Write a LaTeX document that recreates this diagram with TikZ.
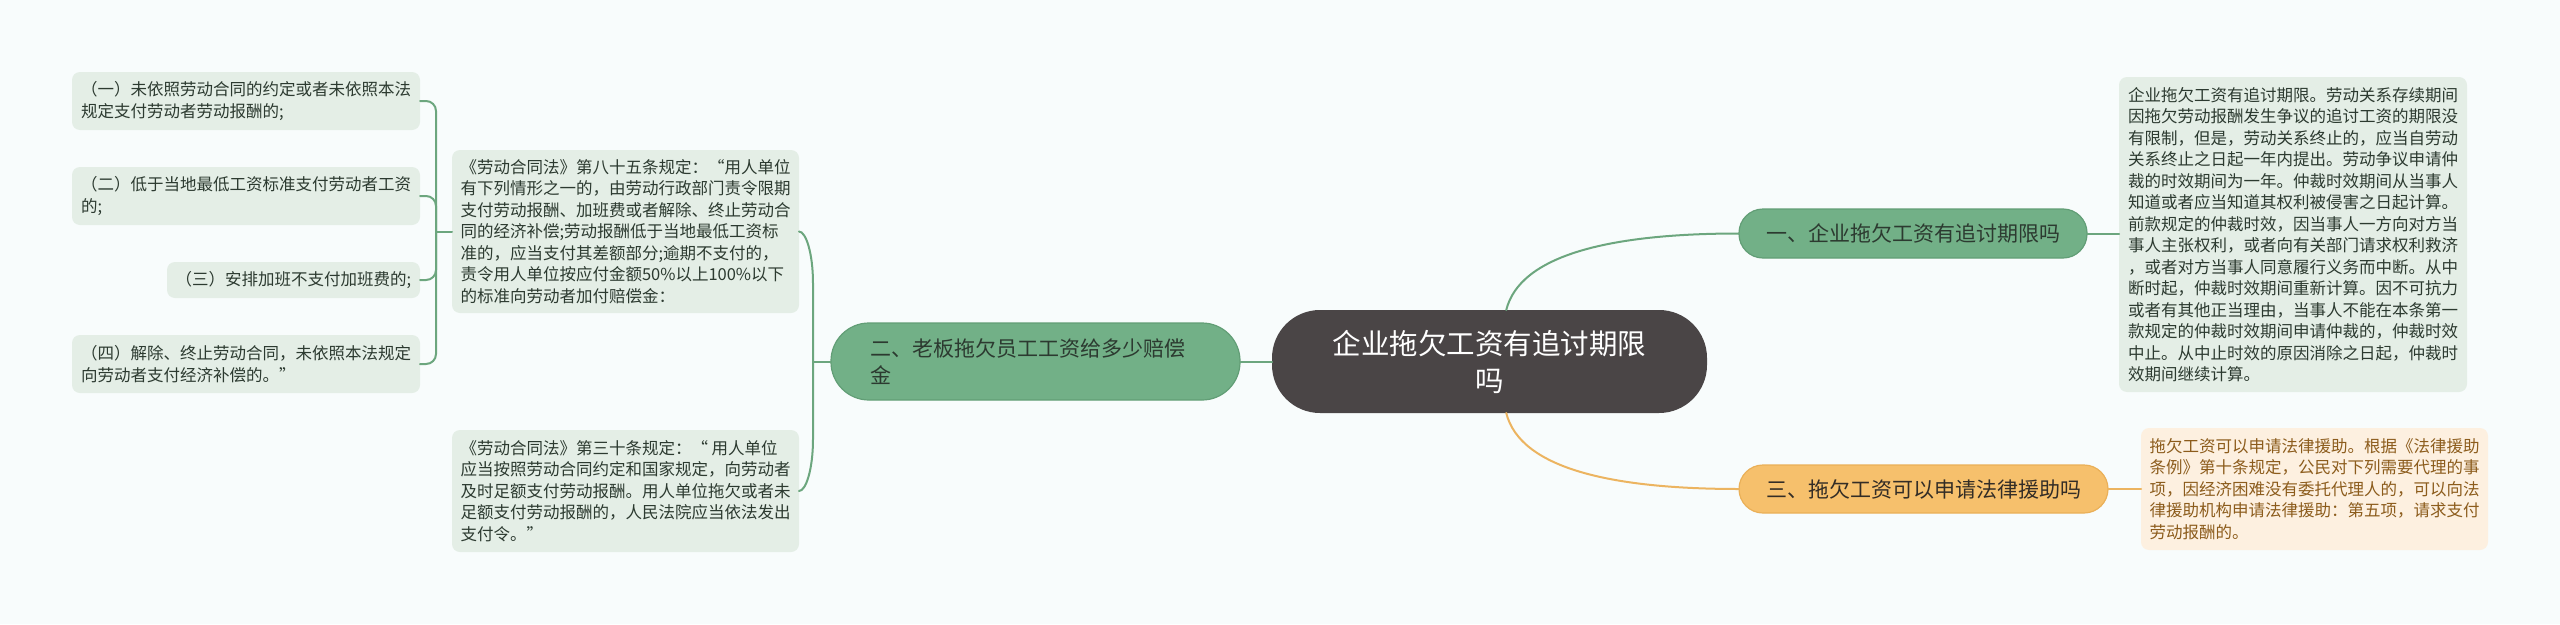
\documentclass[tikz,border=0pt]{standalone}
\usepackage{fontspec}
\usetikzlibrary{calc}
\setmainfont{Noto Sans CJK SC}
\definecolor{bgc}{RGB}{248,252,252}
\definecolor{cdark}{RGB}{74,69,70}
\definecolor{gfill}{RGB}{114,176,135}
\definecolor{gdraw}{RGB}{98,158,118}
\definecolor{gline}{RGB}{108,166,126}
\definecolor{gleaf}{RGB}{228,238,230}
\definecolor{gtext}{RGB}{44,58,48}
\definecolor{ofill}{RGB}{246,192,108}
\definecolor{odraw}{RGB}{234,176,88}
\definecolor{oline}{RGB}{236,180,96}
\definecolor{oleaf}{RGB}{253,240,224}
\definecolor{otext}{RGB}{140,92,28}
\definecolor{btext}{RGB}{51,45,38}
\begin{document}
\begin{tikzpicture}[x=1pt,y=-1pt,
  every node/.style={inner sep=0pt, outer sep=0pt},
  centerbox/.style={fill=cdark, text=white, rounded corners=48pt, minimum width=435pt, minimum height=103pt, align=center, font=\fontsize{28.5pt}{37pt}\selectfont},
  gbranch/.style={fill=gfill, draw=gdraw, line width=1.2pt, text=gtext, rounded corners=24pt, font=\fontsize{21pt}{27pt}\selectfont},
  obranch/.style={fill=ofill, draw=odraw, line width=1.2pt, text=btext, rounded corners=24pt, font=\fontsize{21pt}{27pt}\selectfont},
  gleafbox/.style={fill=gleaf, text=gtext, rounded corners=8pt, align=left, font=\fontsize{16.5pt}{21.5pt}\selectfont},
  oleafbox/.style={fill=oleaf, text=otext, rounded corners=8pt, align=left, font=\fontsize{16.5pt}{21.5pt}\selectfont},
  gconn/.style={draw=gline, line width=2pt, line cap=round},
  oconn/.style={draw=oline, line width=2pt, line cap=round}
]
\fill[bgc] (0,0) rectangle (2560,624);
\useasboundingbox (0,0) rectangle (2560,624);

\node[centerbox] (c) at (1489.5,361.5) {企业拖欠工资有追讨期限\\吗};
\node[gbranch, minimum width=348pt, minimum height=49pt] (b1) at (1913,233.5) {一、企业拖欠工资有追讨期限吗};
\node[obranch, minimum width=369pt, minimum height=48pt] (b3) at (1923.5,489) {三、拖欠工资可以申请法律援助吗};
\node[gbranch, rounded corners=38pt, minimum width=409pt, minimum height=77pt, text width=330pt, align=left] (b2) at (1035.5,361.5) {二、老板拖欠员工工资给多少赔偿\\金};

\node[gleafbox, minimum width=348pt, minimum height=315pt] (r1) at (2293,234.5) {企业拖欠工资有追讨期限。劳动关系存续期间\\因拖欠劳动报酬发生争议的追讨工资的期限没\\有限制，但是，劳动关系终止的，应当自劳动\\关系终止之日起一年内提出。劳动争议申请仲\\裁的时效期间为一年。仲裁时效期间从当事人\\知道或者应当知道其权利被侵害之日起计算。\\前款规定的仲裁时效，因当事人一方向对方当\\事人主张权利，或者向有关部门请求权利救济\\，或者对方当事人同意履行义务而中断。从中\\断时起，仲裁时效期间重新计算。因不可抗力\\或者有其他正当理由，当事人不能在本条第一\\款规定的仲裁时效期间申请仲裁的，仲裁时效\\中止。从中止时效的原因消除之日起，仲裁时\\效期间继续计算。};
\node[oleafbox, minimum width=347pt, minimum height=122pt] (r3) at (2314.5,489) {拖欠工资可以申请法律援助。根据《法律援助\\条例》第十条规定，公民对下列需要代理的事\\项，因经济困难没有委托代理人的，可以向法\\律援助机构申请法律援助：第五项，请求支付\\劳动报酬的。};

\node[gleafbox, minimum width=347pt, minimum height=163pt] (l85) at (625.5,231.5) {《劳动合同法》第八十五条规定：“用人单位\\有下列情形之一的，由劳动行政部门责令限期\\支付劳动报酬、加班费或者解除、终止劳动合\\同的经济补偿;劳动报酬低于当地最低工资标\\准的，应当支付其差额部分;逾期不支付的，\\责令用人单位按应付金额50\%以上100\%以下\\的标准向劳动者加付赔偿金：};
\node[gleafbox, minimum width=347pt, minimum height=122pt] (l30) at (625.5,491) {《劳动合同法》第三十条规定：“ 用人单位\\应当按照劳动合同约定和国家规定，向劳动者\\及时足额支付劳动报酬。用人单位拖欠或者未\\足额支付劳动报酬的，人民法院应当依法发出\\支付令。”};

\node[gleafbox, minimum width=348pt, minimum height=58pt] (i1) at (246,101) {（一）未依照劳动合同的约定或者未依照本法\\规定支付劳动者劳动报酬的;};
\node[gleafbox, minimum width=348pt, minimum height=58pt] (i2) at (246,196) {（二）低于当地最低工资标准支付劳动者工资\\的;};
\node[gleafbox, minimum width=253pt, minimum height=36pt] (i3) at (293.5,280) {（三）安排加班不支付加班费的;};
\node[gleafbox, minimum width=348pt, minimum height=58pt] (i4) at (246,364) {（四）解除、终止劳动合同，未依照本法规定\\向劳动者支付经济补偿的。”};

\coordinate (j1) at (436,231.5);
\coordinate (j2) at (813,361.5);

\draw[gconn] (c.72) .. controls (1520,255) and (1610,233.5) .. (b1.west);
\draw[oconn] (c.-72) .. controls (1520,468) and (1610,489) .. (b3.west);
\draw[gconn] (c.west) -- (b2.east);
\draw[gconn] (b1.east) -- (b1.east -| r1.west);
\draw[oconn] (b3.east) -- (b3.east -| r3.west);
\draw[gconn] (b2.west) -- (j2);
\draw[gconn] (j2) -- ($(j2 |- l85.east)+(0,52)$) .. controls ($(j2 |- l85.east)+(0,22)$) and ($(l85.east)+(7,0)$) .. (l85.east);
\draw[gconn] (j2) -- ($(j2 |- l30.east)+(0,-52)$) .. controls ($(j2 |- l30.east)+(0,-22)$) and ($(l30.east)+(7,0)$) .. (l30.east);
\draw[gconn] (l85.west) -- (j1);
\foreach \n in {i1,i2,i3,i4} \draw[gconn, rounded corners=10pt] (j1) |- (\n.east);
\end{tikzpicture}
\end{document}
